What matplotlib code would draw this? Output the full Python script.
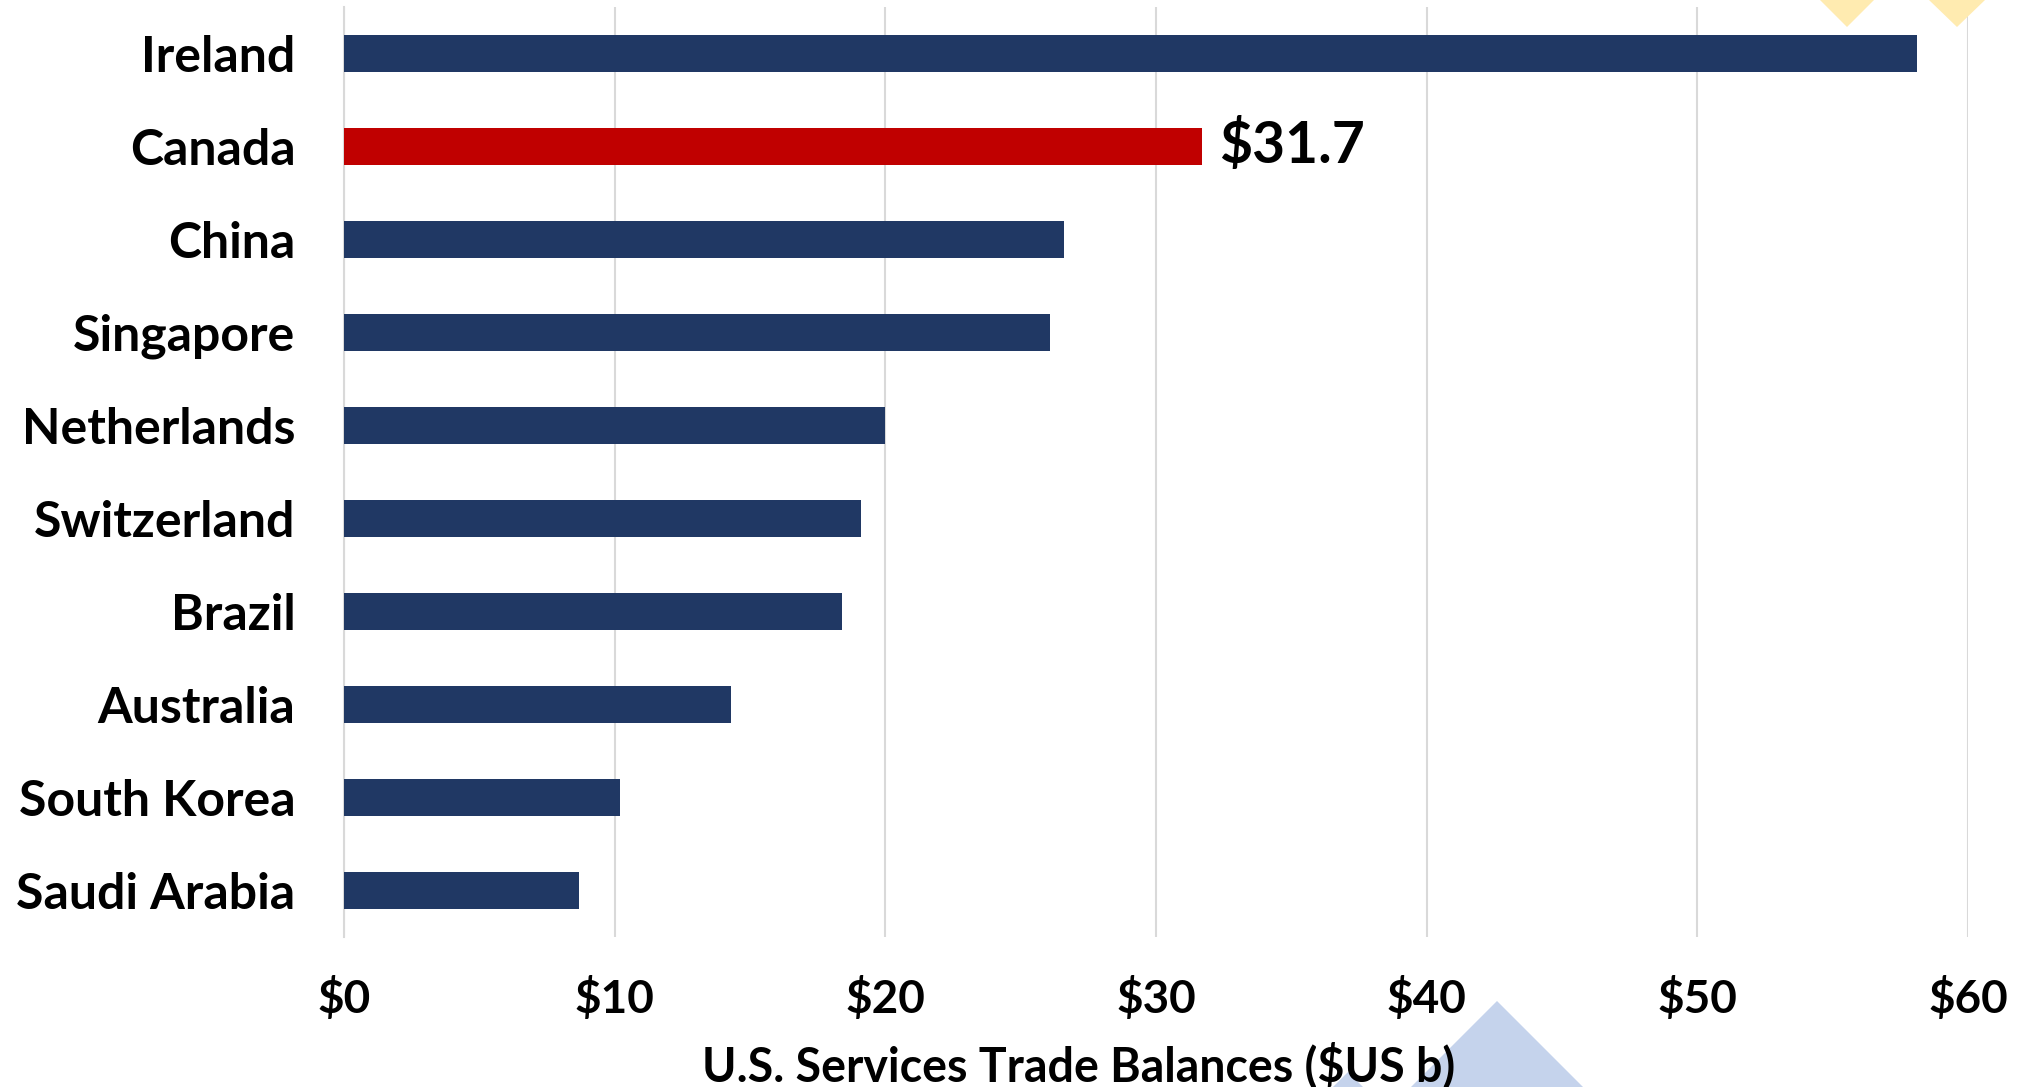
import matplotlib.pyplot as plt
from matplotlib.patches import Polygon

plt.rcParams['font.family'] = ['Lato', 'DejaVu Sans']
plt.rcParams['font.weight'] = 'bold'

# data (US$ billions)
countries = ['Ireland', 'Canada', 'China', 'Singapore', 'Netherlands',
             'Switzerland', 'Brazil', 'Australia', 'South Korea', 'Saudi Arabia']
balances = [58.1, 31.7, 26.6, 26.1, 20.0, 19.1, 18.4, 14.3, 10.2, 8.7]
highlight = 'Canada'
xticks = [0, 10, 20, 30, 40, 50, 60]
xticklabels = ['$0', '$10', '$20', '$30', '$40', '$50', '$60']

navy = '#203864'
red = '#C00000'

fig = plt.figure(figsize=(20.34, 10.87), dpi=100)

# decorative shapes from the slide background (figure pixel coords)
W, H = 2034, 1087
def px_poly(pts, color):
    xy = [(x / W, 1 - y / H) for x, y in pts]
    fig.patches.append(Polygon(xy, closed=True, transform=fig.transFigure,
                               facecolor=color, edgecolor='none', zorder=0))

px_poly([(1820, 0), (1874, 0), (1847, 27)], '#FFEBB0')
px_poly([(1929, 0), (1985, 0), (1957, 27)], '#FFEBB0')
px_poly([(1411, 1087), (1497, 1001), (1583, 1087)], '#C5D3EC')
px_poly([(1333, 1087), (1348, 1072), (1363, 1087)], '#C5D3EC')

ax = fig.add_axes([344 / W, 1 - 937 / H, 1624 / W, 930 / H])
ax.patch.set_alpha(0)

ypos = list(range(len(countries)))
colors = [red if c == highlight else navy for c in countries]
ax.barh(ypos, balances, height=0.39, color=colors, zorder=3)

ax.set_ylim(len(countries) - 0.5, -0.5)
ax.set_xlim(0, 60)
ax.set_yticks(ypos)
ax.set_yticklabels(countries, fontsize=36, fontweight='bold')
ax.set_xticks(xticks)
ax.set_xticklabels(xticklabels, fontsize=33, fontweight='bold')
ax.tick_params(axis='y', length=0, pad=35)
ax.tick_params(axis='x', length=0, pad=29)

ax.grid(axis='x', color='#D9D9D9', linewidth=1.5, zorder=0)
for s in ['top', 'right', 'bottom']:
    ax.spines[s].set_visible(False)
ax.spines['left'].set_color('#D9D9D9')
ax.spines['left'].set_linewidth(1.5)

# callout for Canada
i = countries.index(highlight)
ax.annotate('$' + str(balances[i]), xy=(balances[i], ypos[i]),
            xytext=(12, 0), textcoords='offset points',
            ha='left', va='center', fontsize=41, fontweight='bold')

fig.text(1079 / W, 1 - 1081 / H, 'U.S. Services Trade Balances ($US b)',
         ha='center', va='baseline', fontsize=33.5, fontweight='bold')

fig.savefig('out.png', dpi=100)
